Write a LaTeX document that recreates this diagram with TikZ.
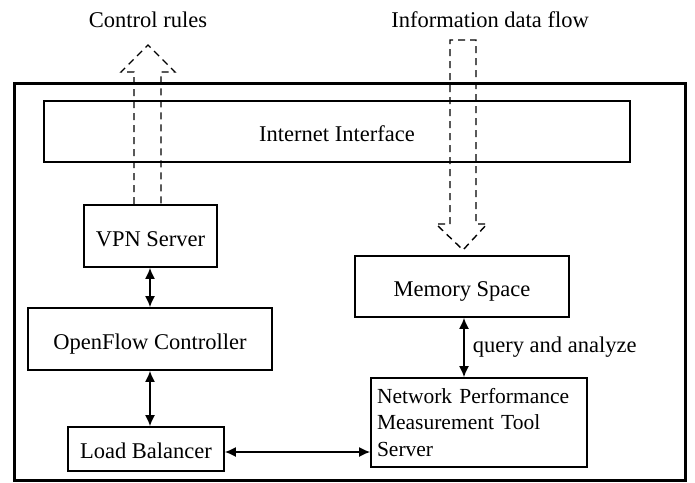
\documentclass[tikz,border=0pt]{standalone}
\usepackage{fontspec}
\setmainfont{Liberation Serif}
\usetikzlibrary{arrows.meta}
\begin{document}
\begin{tikzpicture}[x=1pt,y=-1pt,
  txt/.style={font=\fontsize{22.5}{26.5}\selectfont},
  box/.style={draw,line width=1.6pt,inner sep=0pt,txt,text height=25pt,text depth=5pt},
  lbl/.style={txt,inner sep=0pt},
  biarrow/.style={line width=1.6pt,{Latex[length=11pt,width=10pt]}-{Latex[length=11pt,width=10pt]}},
  flow/.style={line width=1.4pt,dash pattern=on 7pt off 5pt}]
\useasboundingbox (0,0) rectangle (695,482);
\fill[white] (0,0) rectangle (695,482);
% outer frame
\draw[line width=3pt] (14,83) rectangle (685,480);
% component boxes
\node[box,minimum width=586pt,minimum height=61pt] (inet) at (337,131.5) {Internet Interface};
\node[box,minimum width=133pt,minimum height=62pt] (vpn) at (150.5,236) {VPN Server};
\node[box,minimum width=244pt,minimum height=62pt] (ofc) at (150,339) {OpenFlow Controller};
\node[box,minimum width=156pt,minimum height=44pt,text height=23pt] (lb) at (146,449) {Load Balancer};
\node[box,minimum width=214pt,minimum height=61pt] (mem) at (462,286.5) {Memory Space};
\node[draw,line width=1.6pt,inner sep=0pt,font=\fontsize{21.5}{26.5}\selectfont,
      minimum width=216pt,minimum height=89pt,align=left,text width=204pt] (npm) at (479,422.5)
  {Network Performance\\Measurement Tool\\Server};
% titles of the flows
\node[lbl] (ctl) at (148,20) {Control rules};
\node[lbl] (info) at (490,20) {Information data flow};
% solid connectors
\coordinate (vx) at (150,0);
\draw[biarrow] (vpn.south -| vx) -- (ofc.north -| vx);
\draw[biarrow] (ofc.south -| vx) -- (lb.north -| vx);
\draw[biarrow] ([yshift=-3pt]lb.east) -- ([yshift=-3pt]lb.east -| npm.west);
\coordinate (mx) at (464,0);
\draw[biarrow] (mem.south -| mx) -- (npm.north -| mx) node[midway,right=8pt,lbl] (qa) {query and analyze};
% control rules: hollow dashed arrow up from the VPN server
\coordinate (cl) at (134,0);
\coordinate (cr) at (161,0);
\draw[flow] (vpn.north -| cl) -- (134,72) -- (121,72) -- (148,45) -- (175,72) -- (161,72) -- (vpn.north -| cr);
% information data flow: hollow dashed arrow down to memory space
\draw[flow] (450,224) -- (450,40) -- (476,40) -- (476,224) -- (487,224) -- (463,250) -- (436,224) -- cycle;
\end{tikzpicture}
\end{document}
